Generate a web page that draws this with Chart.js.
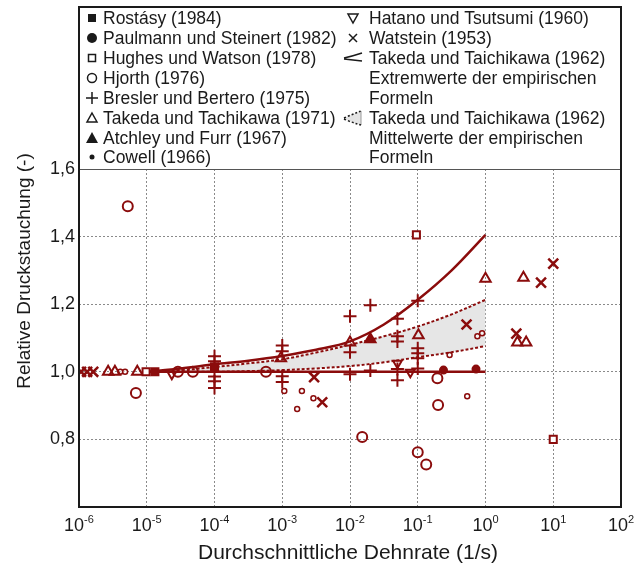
<!DOCTYPE html>
<html>
<head>
<meta charset="utf-8">
<script src="https://cdn.jsdelivr.net/npm/chart.js@4.4.1/dist/chart.umd.min.js"></script>
<style>
  html, body { margin: 0; padding: 0; background: #fff; }
</style>
</head>
<body>
<canvas id="myChart" width="635" height="577"></canvas>
<script>
// Dehnrate als Zehnerexponent (log10 von 1/s)
const decades = [-6, -5, -4, -3, -2, -1, 0, 1, 2];

const rostasyLog = [-4.88, -4.0];
const rostasyVal = [1.0, 1.015];

const paulmannLog = [-0.62, -0.14];
const paulmannVal = [1.005, 1.008];

const hughesLog = [-5.01, -1.02, 1.0];
const hughesVal = [1.0, 1.405, 0.80];

const hjorthLog = [-5.28, -5.16, -4.54, -4.32, -3.24, -1.82, -1.0, -0.875, -0.70, -0.71];
const hjorthVal = [1.49, 0.937, 1.0, 1.0, 1.0, 0.807, 0.762, 0.726, 0.902, 0.981];

const breslerLog = [-4, -4, -4, -4, -4, -3, -3, -3, -3, -2, -2, -2,
                    -1.7, -1.7, -1.3, -1.3, -1.3, -1.3, -1.3, -1, -1, -1, -1, -1];
const breslerVal = [1.046, 1.031, 0.986, 0.972, 0.952, 1.078, 1.061, 0.987, 0.97, 1.164, 1.058, 0.993,
                    1.197, 1.004, 1.157, 1.105, 1.09, 1.008, 0.975, 1.21, 1.07, 1.055, 1.04, 1.01];

const takeda71Log = [-5.57, -5.47, -5.14, -3.02, -2.0, -0.99, 0.0, 0.56, 0.47, 0.60];
const takeda71Val = [1.0, 1.0, 1.0, 1.04, 1.087, 1.108, 1.275, 1.278, 1.087, 1.087];

const atchleyLog = [-1.70];
const atchleyVal = [1.096];

const cowellLog = [-5.39, -5.32, -2.97, -2.71, -2.54, -2.78, -0.27, -0.53, -0.12, -0.05];
const cowellVal = [1.0, 1.0, 0.943, 0.943, 0.922, 0.89, 0.928, 1.05, 1.105, 1.114];

const hatanoLog = [-4.63, -1.30, -1.11];
const hatanoVal = [0.993, 1.025, 0.999];

const watsteinLog = [-5.97, -5.88, -5.79, -2.53, -2.41, -0.28, 0.455, 0.82, 1.0];
const watsteinVal = [1.0, 1.0, 1.0, 0.984, 0.91, 1.14, 1.113, 1.264, 1.32];

// Takeda und Taichikawa (1962) Kurven
const curveLog = [-5, -4.5, -4, -3.5, -3, -2.5, -2, -1.5, -1, -0.5, 0];
const extremUpper = [1.0, 1.01, 1.022, 1.033, 1.047, 1.065, 1.09, 1.14, 1.213, 1.30, 1.405];
const extremLower = [1.0, 1.0, 1.0, 1.0, 1.0, 1.0, 1.0, 1.0, 1.0, 1.0, 1.0];
const mittelUpper = [1.0, 1.005, 1.014, 1.025, 1.037, 1.057, 1.08, 1.105, 1.134, 1.17, 1.213];
const mittelLower = [1.0, 1.0, 1.0, 1.002, 1.005, 1.01, 1.017, 1.028, 1.043, 1.058, 1.076];

const RED = '#8b0c0c';
const INK = '#1a1a1a';
const FONT = '"Liberation Sans", Arial, sans-serif';

function pts(logs, vals) {
  return logs.map(function (e, i) { return { x: Math.pow(10, e), y: vals[i] }; });
}

function marks(data, style, radius, fill, extra) {
  return Object.assign({
    type: 'scatter',
    data: data,
    pointStyle: style,
    pointRadius: radius,
    pointBorderColor: RED,
    pointBackgroundColor: fill,
    pointBorderWidth: 2,
    order: 1
  }, extra || {});
}

function curve(data, dashed, extra) {
  return Object.assign({
    type: 'line',
    data: data,
    borderColor: RED,
    borderWidth: dashed ? 2 : 2.5,
    borderDash: dashed ? [3, 2] : [],
    pointRadius: 0,
    tension: 0.35,
    fill: false,
    order: 5
  }, extra || {});
}

Chart.defaults.font.family = FONT;

// Rahmen, Achsenbeschriftungen und Legende
const decor = {
  id: 'decor',
  afterDraw(chart) {
    const ctx = chart.ctx;
    const area = chart.chartArea;
    const xs = chart.scales.x;
    ctx.save();

    // Legendenrand unten (1,6)
    ctx.strokeStyle = '#555';
    ctx.lineWidth = 1.2;
    ctx.beginPath();
    ctx.moveTo(area.left, area.top + 0.5);
    ctx.lineTo(area.right, area.top + 0.5);
    ctx.stroke();

    // Rahmen
    ctx.strokeStyle = INK;
    ctx.lineWidth = 2;
    ctx.strokeRect(area.left, 7, area.right - area.left, area.bottom - 7);

    // x Tick-Beschriftung 10^n
    ctx.fillStyle = INK;
    ctx.textBaseline = 'alphabetic';
    ctx.textAlign = 'left';
    decades.forEach(function (e) {
      const px = xs.getPixelForValue(Math.pow(10, e));
      ctx.font = '18px ' + FONT;
      const w1 = ctx.measureText('10').width;
      ctx.font = '11px ' + FONT;
      const w2 = ctx.measureText(String(e)).width;
      const x0 = px - (w1 + w2) / 2;
      ctx.font = '18px ' + FONT;
      ctx.fillText('10', x0, 531);
      ctx.font = '11px ' + FONT;
      ctx.fillText(String(e), x0 + w1, 523);
    });

    // Achsentitel
    ctx.textAlign = 'center';
    ctx.textBaseline = 'middle';
    ctx.font = '21px ' + FONT;
    ctx.fillText('Durchschnittliche Dehnrate (1/s)', (area.left + area.right) / 2 - 2, 553);
    ctx.save();
    ctx.translate(25, 271);
    ctx.rotate(-Math.PI / 2);
    ctx.font = '19px ' + FONT;
    ctx.fillText('Relative Druckstauchung (-)', 0, 0);
    ctx.restore();

    // Legende
    const rows = [18, 38, 58, 78, 98, 118, 138, 157];
    const leftItems = ['Rostásy (1984)', 'Paulmann und Steinert (1982)', 'Hughes und Watson (1978)',
      'Hjorth (1976)', 'Bresler und Bertero (1975)', 'Takeda und Tachikawa (1971)',
      'Atchley und Furr (1967)', 'Cowell (1966)'];
    const rightItems = ['Hatano und Tsutsumi (1960)', 'Watstein (1953)', 'Takeda und Taichikawa (1962)',
      'Extremwerte der empirischen', 'Formeln', 'Takeda und Taichikawa (1962)',
      'Mittelwerte der empirischen', 'Formeln'];
    ctx.font = '17.5px ' + FONT;
    ctx.textAlign = 'left';
    ctx.textBaseline = 'middle';
    ctx.fillStyle = INK;
    leftItems.forEach(function (t, i) { ctx.fillText(t, 103, rows[i] + 1); });
    rightItems.forEach(function (t, i) { ctx.fillText(t, 369, rows[i] + 1); });

    ctx.strokeStyle = INK;
    ctx.fillStyle = INK;
    ctx.lineWidth = 1.5;
    let cx = 92, cy;
    // Rostásy
    cy = rows[0]; ctx.fillRect(cx - 4, cy - 4, 8, 8);
    // Paulmann
    cy = rows[1]; ctx.beginPath(); ctx.arc(cx, cy, 5, 0, Math.PI * 2); ctx.fill();
    // Hughes
    cy = rows[2]; ctx.strokeRect(cx - 3.5, cy - 3.5, 7, 7);
    // Hjorth
    cy = rows[3]; ctx.beginPath(); ctx.arc(cx, cy, 4.5, 0, Math.PI * 2); ctx.stroke();
    // Bresler
    cy = rows[4]; ctx.beginPath();
    ctx.moveTo(cx - 6, cy); ctx.lineTo(cx + 6, cy);
    ctx.moveTo(cx, cy - 6); ctx.lineTo(cx, cy + 6); ctx.stroke();
    // Takeda 1971
    cy = rows[5]; ctx.beginPath();
    ctx.moveTo(cx, cy - 5); ctx.lineTo(cx + 5, cy + 4); ctx.lineTo(cx - 5, cy + 4); ctx.closePath(); ctx.stroke();
    // Atchley
    cy = rows[6]; ctx.beginPath();
    ctx.moveTo(cx, cy - 6); ctx.lineTo(cx + 6, cy + 5); ctx.lineTo(cx - 6, cy + 5); ctx.closePath(); ctx.fill();
    // Cowell
    cy = rows[7]; ctx.beginPath(); ctx.arc(cx, cy, 2.5, 0, Math.PI * 2); ctx.fill();

    cx = 353;
    // Hatano
    cy = rows[0]; ctx.beginPath();
    ctx.moveTo(cx - 5, cy - 4); ctx.lineTo(cx + 5, cy - 4); ctx.lineTo(cx, cy + 5); ctx.closePath(); ctx.stroke();
    // Watstein
    cy = rows[1]; ctx.beginPath();
    ctx.moveTo(cx - 4, cy - 4); ctx.lineTo(cx + 4, cy + 4);
    ctx.moveTo(cx + 4, cy - 4); ctx.lineTo(cx - 4, cy + 4); ctx.stroke();
    // Extremwerte
    cy = rows[2]; ctx.beginPath();
    ctx.moveTo(cx - 9, cy + 1); ctx.lineTo(cx + 9, cy + 3);
    ctx.moveTo(cx - 9, cy); ctx.quadraticCurveTo(cx, cy - 2, cx + 9, cy - 5); ctx.stroke();
    // Mittelwerte
    cy = rows[5];
    ctx.fillStyle = '#e4e4e4';
    ctx.beginPath();
    ctx.moveTo(cx - 9, cy);
    ctx.quadraticCurveTo(cx, cy - 4, cx + 8, cy - 7);
    ctx.lineTo(cx + 8, cy + 7);
    ctx.quadraticCurveTo(cx, cy + 5, cx - 9, cy + 1);
    ctx.closePath(); ctx.fill();
    ctx.strokeStyle = '#999'; ctx.lineWidth = 1;
    ctx.beginPath(); ctx.moveTo(cx + 8, cy - 7); ctx.lineTo(cx + 8, cy + 7); ctx.stroke();
    ctx.strokeStyle = INK; ctx.lineWidth = 1.5; ctx.setLineDash([2, 2]);
    ctx.beginPath();
    ctx.moveTo(cx - 9, cy); ctx.quadraticCurveTo(cx, cy - 4, cx + 8, cy - 7);
    ctx.moveTo(cx - 9, cy + 1); ctx.quadraticCurveTo(cx, cy + 5, cx + 8, cy + 7);
    ctx.stroke();
    ctx.setLineDash([]);

    ctx.restore();
  }
};

const ctx = document.getElementById('myChart').getContext('2d');
const myChart = new Chart(ctx, {
  type: 'scatter',
  data: {
    datasets: [
      curve(pts(curveLog, mittelUpper), true, { fill: '+1', backgroundColor: '#e6e6e6', order: 10 }),
      curve(pts(curveLog, mittelLower), true, { order: 9 }),
      curve(pts(curveLog, extremUpper), false),
      curve(pts(curveLog, extremLower), false),
      marks(pts(rostasyLog, rostasyVal), 'rect', 5, RED),
      marks(pts(paulmannLog, paulmannVal), 'circle', 3.5, RED),
      marks(pts(hughesLog, hughesVal), 'rect', 5, '#fff'),
      marks(pts(hjorthLog, hjorthVal), 'circle', 5, 'rgba(0,0,0,0)'),
      marks(pts(breslerLog, breslerVal), 'cross', 6.5, RED),
      marks(pts(takeda71Log, takeda71Val), 'triangle', 6, 'rgba(0,0,0,0)'),
      marks(pts(atchleyLog, atchleyVal), 'triangle', 6, RED),
      marks(pts(cowellLog, cowellVal), 'circle', 2.5, 'rgba(255,255,255,0.6)', { pointBorderWidth: 1.5 }),
      marks(pts(hatanoLog, hatanoVal), 'triangle', 5, 'rgba(0,0,0,0)', { pointRotation: 180 }),
      marks(pts(watsteinLog, watsteinVal), 'crossRot', 7, RED, { pointBorderWidth: 2.5 })
    ]
  },
  options: {
    responsive: false,
    animation: false,
    events: [],
    layout: { padding: { top: 169, right: 14, left: 0, bottom: 0 } },
    plugins: { legend: { display: false }, tooltip: { enabled: false } },
    scales: {
      x: {
        type: 'logarithmic',
        min: 1e-6,
        max: 1e2,
        afterBuildTicks: function (s) {
          s.ticks = decades.map(function (e) { return { value: Math.pow(10, e) }; });
        },
        afterFit: function (s) { s.height = 70; },
        ticks: { display: false },
        grid: {
          drawTicks: false,
          lineWidth: 1,
          color: function (c) { return (c.index === 0 || c.index === decades.length - 1) ? 'rgba(0,0,0,0)' : '#8a8a8a'; }
        },
        border: { display: false, dash: [2, 2] }
      },
      y: {
        min: 0.6,
        max: 1.6,
        afterBuildTicks: function (s) {
          s.ticks = [0.6, 0.8, 1.0, 1.2, 1.4, 1.6].map(function (v) { return { value: v }; });
        },
        afterFit: function (s) { s.width = 79; },
        ticks: {
          padding: 4,
          color: INK,
          font: { size: 18 },
          callback: function (v) { return v < 0.7 ? '' : v.toFixed(1).replace('.', ','); }
        },
        grid: {
          drawTicks: false,
          lineWidth: 1,
          color: function (c) { return (c.index === 0 || c.index === 5) ? 'rgba(0,0,0,0)' : '#8a8a8a'; }
        },
        border: { display: false, dash: [2, 2] }
      }
    }
  },
  plugins: [decor]
});
</script>
</body>
</html>
